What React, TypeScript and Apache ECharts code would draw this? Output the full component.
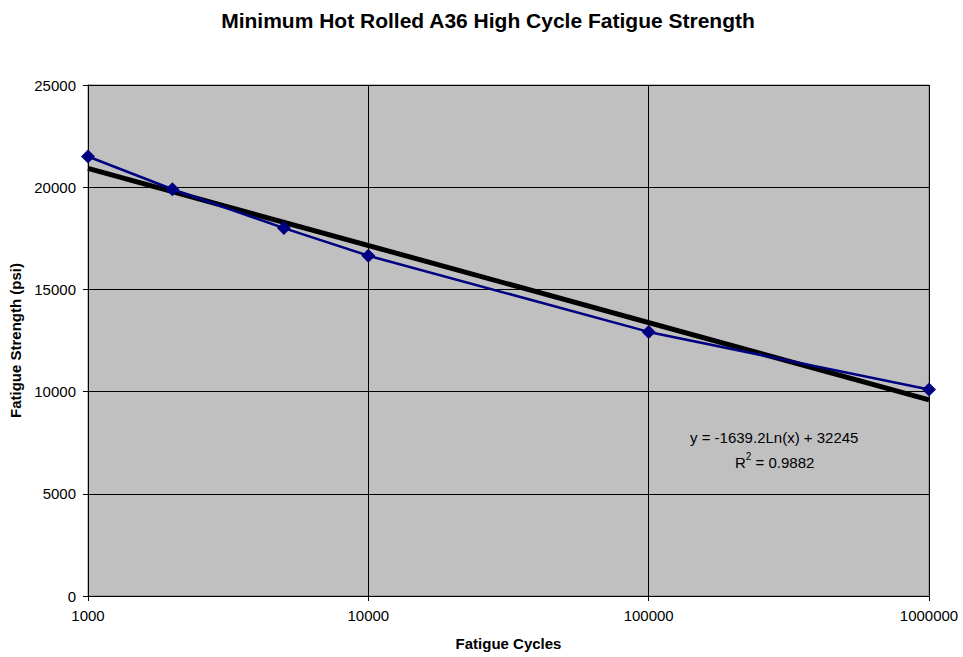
import React, { useEffect, useRef } from "react";
import * as echarts from "echarts";

const cycles = [1000, 2000, 5000, 10000, 100000, 1000000];
const strength = [21500, 19900, 18000, 16650, 12920, 10100];
const trendCycles = [1000, 1000000];
const trendValues = [20922, 9599];
const equationText = "y = -1639.2Ln(x) + 32245";
const r2Value = "0.9882";

export default function App() {
  const ref = useRef<HTMLDivElement>(null);
  useEffect(() => {
    if (!ref.current) return;
    const chart = echarts.init(ref.current, null, { renderer: "svg" });
    const font = "Liberation Sans, Arial, sans-serif";
    chart.setOption({
      animation: false,
      backgroundColor: "#ffffff",
      textStyle: { fontFamily: font },
      title: {
        text: "Minimum Hot Rolled A36 High Cycle Fatigue Strength",
        left: 483,
        top: 5,
        textAlign: "center",
        textStyle: { fontSize: 21, fontWeight: "bold", color: "#000", fontFamily: font },
      },
      grid: { left: 88, right: 34, top: 85, bottom: 61, show: true, backgroundColor: "#c0c0c0", borderColor: "#808080", borderWidth: 1 },
      xAxis: {
        type: "log",
        logBase: 10,
        min: 1000,
        max: 1000000,
        name: "Fatigue Cycles",
        nameLocation: "middle",
        nameGap: 40,
        nameTextStyle: { fontSize: 15, fontWeight: "bold", color: "#000", fontFamily: font },
        axisLine: { show: true, onZero: false, lineStyle: { color: "#000", width: 1 } },
        axisTick: { show: true, length: 5, lineStyle: { color: "#000" } },
        minorTick: { show: false },
        axisLabel: { fontSize: 15, color: "#000", margin: 12, fontFamily: font, formatter: (v: number) => String(Math.round(v)) },
        splitLine: { show: true, lineStyle: { color: "#000", width: 1 } },
      },
      yAxis: {
        type: "value",
        min: 0,
        max: 25000,
        interval: 5000,
        name: "Fatigue Strength (psi)",
        nameLocation: "middle",
        nameGap: 62,
        nameRotate: 90,
        nameTextStyle: { fontSize: 15, fontWeight: "bold", color: "#000", fontFamily: font },
        axisLine: { show: true, lineStyle: { color: "#000", width: 1 } },
        axisTick: { show: true, inside: false, length: 5, lineStyle: { color: "#000" } },
        axisLabel: { fontSize: 15, color: "#000", margin: 12, fontFamily: font, formatter: (v: number) => String(v) },
        splitLine: { show: true, lineStyle: { color: "#000", width: 1 } },
      },
      series: [
        {
          type: "line",
          name: "trend",
          data: trendCycles.map((c, i) => [c, trendValues[i]]),
          symbol: "none",
          lineStyle: { color: "#000", width: 5 },
          z: 2,
        },
        {
          type: "line",
          name: "data",
          data: cycles.map((c, i) => [c, strength[i]]),
          symbol: "diamond",
          symbolSize: 14,
          itemStyle: { color: "#000080" },
          lineStyle: { color: "#000080", width: 2.5 },
          z: 3,
        },
      ],
      graphic: [
        {
          type: "text",
          left: 690,
          top: 430,
          style: { text: equationText, fontSize: 15, fill: "#000", fontFamily: font },
        },
        {
          type: "text",
          left: 735,
          top: 451,
          style: {
            text: "{a|R}{s|2}{a| = " + r2Value + "}",
            fill: "#000",
            rich: {
              a: { fontSize: 15, fontFamily: font, fill: "#000", verticalAlign: "bottom", lineHeight: 19 },
              s: { fontSize: 10, fontFamily: font, fill: "#000", verticalAlign: "top", lineHeight: 19 },
            },
          },
        },
      ],
    });
    return () => chart.dispose();
  }, []);
  return <div ref={ref} style={{ position: "fixed", left: 0, top: 0, width: 963, height: 657 }} />;
}
